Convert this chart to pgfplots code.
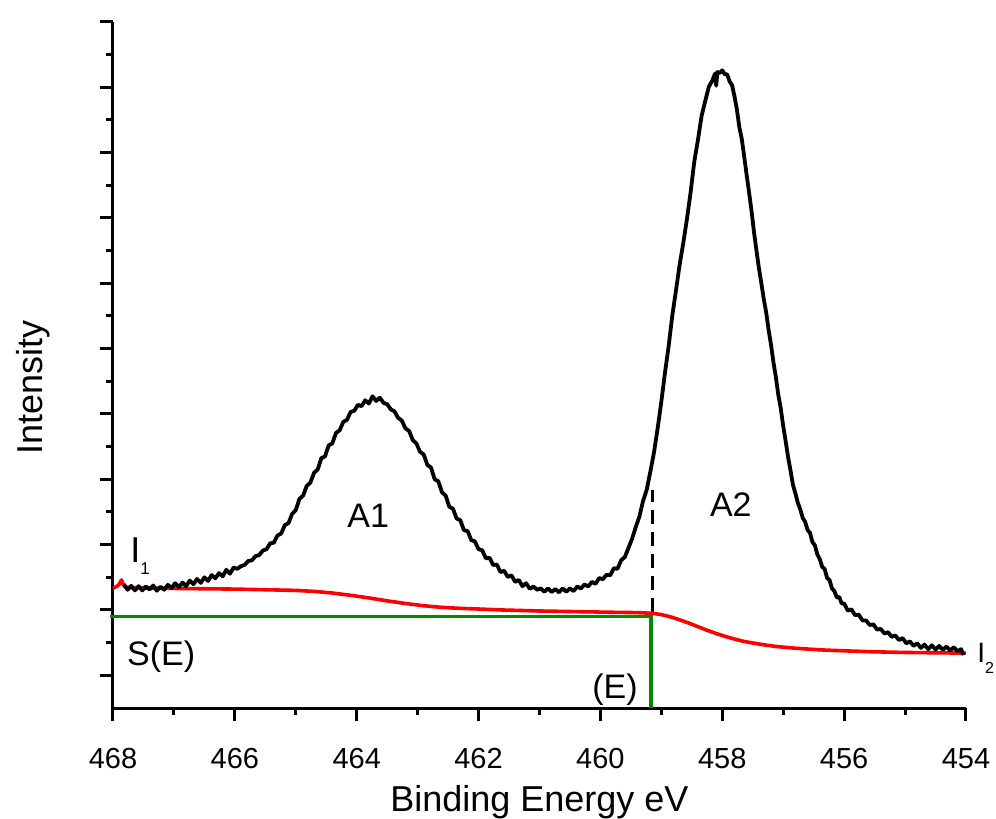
\documentclass[border=0pt]{standalone}
\usepackage{fontspec}
\setmainfont{Liberation Sans}
\usepackage{pgfplots}
\pgfplotsset{compat=1.18}
\definecolor{bgred}{RGB}{255,0,0}
\definecolor{sgreen}{RGB}{0,140,0}
\begin{document}
\begin{tikzpicture}
\path[use as bounding box] (-56.5pt,-55.5pt) rectangle (441.5pt,354pt);
\begin{axis}[
 at={(0pt,0pt)}, anchor=south west,
 scale only axis, width=426.5pt, height=343pt,
 xmin=454, xmax=468, ymin=0, ymax=21, x dir=reverse,
 axis lines=left, axis line style={-, line width=1.5pt},
 xtick={454,456,...,468}, minor xtick={455,457,...,467},
 ytick={1,3,...,21}, minor ytick={2,4,...,20}, yticklabels={},
 tick align=outside, tick style={line width=1.5pt, black},
 major tick length=6.5pt, minor tick length=3.5pt,
 /pgf/number format/assume math mode=true,
 ticklabel style={font=\fontsize{14.5}{17}\selectfont},
 xticklabel style={anchor=base, yshift=-23.5pt},
 xlabel={Binding Energy eV}, ylabel={Intensity},
 label style={font=\fontsize{18}{21}\selectfont},
 xlabel style={at={(axis description cs:0.5,-0.1516)}, anchor=base},
 ylabel style={at={(axis description cs:-0.0832,0.467)}, anchor=base},
 clip=false,
]
% green S(E) construction
\addplot[sgreen, line width=1.6pt] coordinates {(468.05,2.79) (459.17,2.79) (459.17,0)};
% dashed separator
\addplot[black, line width=1.4pt, dash pattern=on 7pt off 4pt] coordinates {(459.15,2.94) (459.15,6.67)};
% Shirley background
\addplot[bgred, line width=1.8pt, line join=round] coordinates {
(468.00,3.67) (467.94,3.72) (467.90,3.78) (467.86,3.92) (467.83,3.78) (467.80,3.70)
(467.70,3.68) (467.40,3.67) (467.00,3.66) (466.50,3.65) (466.00,3.64) (465.50,3.62)
(465.00,3.60) (464.70,3.57) (464.40,3.52) (464.10,3.45) (463.80,3.37) (463.50,3.28)
(463.20,3.20) (462.90,3.13) (462.60,3.08) (462.30,3.05) (462.00,3.03) (461.60,3.00)
(461.00,2.97) (460.40,2.95) (459.80,2.93) (459.40,2.92) (459.15,2.90) (459.00,2.86)
(458.85,2.79) (458.70,2.70) (458.55,2.60) (458.40,2.49) (458.25,2.38) (458.10,2.28)
(457.95,2.19) (457.80,2.11) (457.65,2.04) (457.50,1.99) (457.30,1.93) (457.10,1.88)
(456.80,1.83) (456.40,1.78) (456.00,1.75) (455.50,1.72) (455.00,1.70) (454.50,1.69)
(454.00,1.68)
};
% measured spectrum
\addplot[black, line width=1.9pt, line join=round] coordinates {
(467.82,3.78) (467.76,3.62) (467.70,3.74) (467.64,3.60) (467.58,3.73) (467.52,3.60)
(467.46,3.72) (467.40,3.63) (467.34,3.75) (467.28,3.59) (467.22,3.71) (467.16,3.62)
(467.10,3.77) (467.04,3.67) (466.98,3.82) (466.92,3.70) (466.86,3.84) (466.80,3.73)
(466.74,3.90) (466.68,3.79) (466.62,3.95) (466.56,3.83) (466.50,4.00) (466.44,3.89)
(466.38,4.07) (466.32,3.97) (466.26,4.13) (466.20,4.03) (466.14,4.23) (466.08,4.11)
(466.02,4.30) (465.96,4.26) (465.90,4.34) (465.84,4.38) (465.78,4.50) (465.72,4.52)
(465.66,4.65) (465.60,4.68) (465.54,4.82) (465.48,4.86) (465.42,5.04) (465.36,5.06)
(465.30,5.28) (465.24,5.34) (465.18,5.60) (465.12,5.66) (465.06,5.94) (465.00,6.06)
(464.94,6.40) (464.88,6.50) (464.82,6.80) (464.76,6.90) (464.70,7.20) (464.64,7.30)
(464.58,7.65) (464.52,7.70) (464.46,8.04) (464.40,8.10) (464.34,8.42) (464.28,8.50)
(464.22,8.76) (464.16,8.82) (464.10,9.06) (464.04,9.10) (463.98,9.28) (463.92,9.24)
(463.86,9.42) (463.80,9.32) (463.74,9.54) (463.68,9.40) (463.62,9.50) (463.56,9.34)
(463.50,9.30) (463.44,9.14) (463.38,9.08) (463.32,8.88) (463.26,8.80) (463.20,8.56)
(463.14,8.48) (463.08,8.20) (463.02,8.10) (462.96,7.84) (462.90,7.76) (462.84,7.44)
(462.78,7.36) (462.72,7.00) (462.66,6.94) (462.60,6.60) (462.54,6.50) (462.48,6.16)
(462.42,6.10) (462.36,5.80) (462.30,5.75) (462.24,5.44) (462.18,5.42) (462.12,5.14)
(462.06,5.10) (462.00,4.86) (461.94,4.83) (461.88,4.58) (461.82,4.60) (461.76,4.38)
(461.70,4.39) (461.64,4.16) (461.58,4.20) (461.52,4.01) (461.46,4.06) (461.40,3.86)
(461.34,3.92) (461.28,3.73) (461.22,3.82) (461.16,3.65) (461.10,3.72) (461.04,3.62)
(460.98,3.66) (460.92,3.56) (460.86,3.66) (460.80,3.55) (460.74,3.64) (460.68,3.54)
(460.62,3.66) (460.56,3.56) (460.50,3.66) (460.44,3.58) (460.38,3.72) (460.32,3.66)
(460.26,3.78) (460.20,3.72) (460.14,3.86) (460.08,3.80) (460.02,3.98) (459.96,3.94)
(459.90,4.08) (459.84,4.06) (459.78,4.28) (459.72,4.26) (459.66,4.52) (459.60,4.62)
(459.54,4.90) (459.48,5.18) (459.42,5.54) (459.36,5.86) (459.30,6.34) (459.24,6.68)
(459.18,7.24) (459.12,7.83) (459.06,8.57) (459.00,9.38) (458.94,10.27) (458.88,11.08)
(458.82,12.02) (458.76,12.78) (458.70,13.57) (458.64,14.23) (458.58,14.97) (458.52,15.78)
(458.46,16.72) (458.40,17.38) (458.34,18.12) (458.28,18.58) (458.22,19.02) (458.16,19.22)
(458.12,19.42) (458.10,19.05) (458.08,19.47) (458.04,19.44) (458.00,19.52) (457.96,19.40)
(457.92,19.40) (457.88,19.18) (457.84,19.07) (457.80,18.73) (457.76,18.32) (457.72,17.78)
(457.68,17.42) (457.64,16.88) (457.60,16.32) (457.56,15.78) (457.52,15.22) (457.48,14.58)
(457.44,14.02) (457.40,13.48) (457.36,13.02) (457.32,12.53) (457.28,12.12) (457.24,11.58)
(457.20,11.12) (457.16,10.58) (457.12,10.12) (457.08,9.58) (457.04,9.17) (457.00,8.63)
(456.96,8.17) (456.92,7.68) (456.88,7.27) (456.84,6.83) (456.80,6.57) (456.76,6.28)
(456.72,6.08) (456.68,5.82) (456.64,5.70) (456.60,5.45) (456.56,5.36) (456.52,5.08)
(456.48,4.98) (456.44,4.70) (456.40,4.56) (456.36,4.32) (456.32,4.26) (456.28,3.98)
(456.24,3.92) (456.20,3.66) (456.16,3.58) (456.12,3.38) (456.08,3.40) (456.04,3.20)
(456.00,3.20) (455.94,2.98) (455.88,3.02) (455.82,2.84) (455.76,2.86) (455.70,2.68)
(455.64,2.68) (455.58,2.54) (455.52,2.56) (455.46,2.40) (455.40,2.42) (455.34,2.28)
(455.28,2.32) (455.22,2.18) (455.16,2.22) (455.10,2.08) (455.04,2.14) (454.98,1.98)
(454.92,2.04) (454.86,1.90) (454.80,1.98) (454.74,1.84) (454.68,1.94) (454.62,1.80)
(454.56,1.92) (454.50,1.79) (454.44,1.90) (454.38,1.78) (454.32,1.88) (454.26,1.76)
(454.20,1.86) (454.14,1.74) (454.08,1.80) (454.04,1.62)
};
% annotations
\node[anchor=base west, font=\fontsize{18}{20}\selectfont, inner sep=0pt] at (axis cs:467.72,4.44) {I\raisebox{-6pt}{\fontsize{8.5}{9}\selectfont 1}};
\node[anchor=base, font=\fontsize{17}{20}\selectfont, inner sep=0pt] at (axis cs:463.81,5.54) {A1};
\node[anchor=base, font=\fontsize{17}{20}\selectfont, inner sep=0pt] at (axis cs:457.86,5.85) {A2};
\node[anchor=base, font=\fontsize{17}{20}\selectfont, inner sep=0pt] at (axis cs:467.21,1.29) {S(E)};
\node[anchor=base, font=\fontsize{17}{20}\selectfont, inner sep=0pt] at (axis cs:459.76,0.30) {(E)};
\node[anchor=base west, font=\fontsize{14}{16}\selectfont, inner sep=0pt] at (axis cs:453.82,1.38) {I\raisebox{-5.5pt}{\fontsize{8}{9}\selectfont 2}};
\end{axis}
\end{tikzpicture}
\end{document}
